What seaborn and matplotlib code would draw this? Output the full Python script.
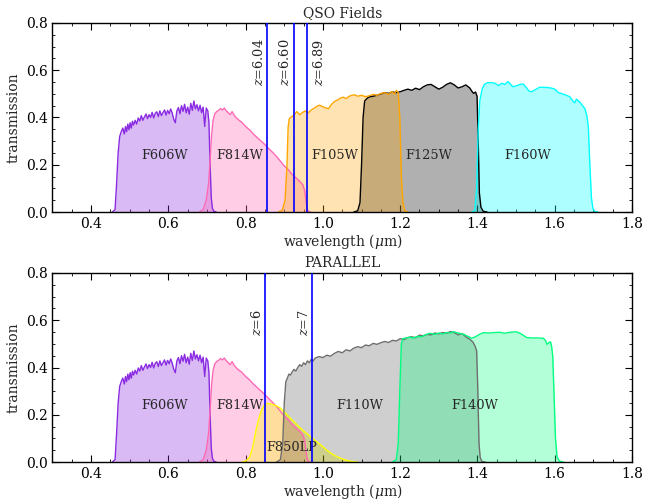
import matplotlib
matplotlib.use("Agg")
import matplotlib.pyplot as plt
import seaborn as sns
from matplotlib.ticker import MultipleLocator

# ---- filter throughput curves (wavelength in micron, transmission) ----
F606W_WL = [0.455, 0.462, 0.466, 0.470, 0.474, 0.478, 0.482, 0.486, 0.489, 0.492,
            0.495, 0.498, 0.501, 0.504, 0.507, 0.510, 0.514, 0.518, 0.522, 0.526,
            0.530, 0.534, 0.538, 0.542, 0.546, 0.550, 0.554, 0.558, 0.562, 0.566,
            0.570, 0.574, 0.578, 0.582, 0.586, 0.590, 0.594, 0.598, 0.602, 0.606,
            0.610, 0.614, 0.618, 0.622, 0.626, 0.630, 0.634, 0.638, 0.642, 0.646,
            0.650, 0.654, 0.658, 0.662, 0.666, 0.670, 0.674, 0.678, 0.682, 0.686,
            0.690, 0.694, 0.698, 0.702, 0.705, 0.708, 0.711, 0.714, 0.718, 0.724]
F606W_T = [0.000, 0.010, 0.120, 0.250, 0.320, 0.340, 0.355, 0.330, 0.362, 0.340,
           0.372, 0.348, 0.378, 0.355, 0.384, 0.368, 0.388, 0.372, 0.398, 0.385,
           0.408, 0.388, 0.402, 0.415, 0.395, 0.412, 0.400, 0.422, 0.398, 0.418,
           0.424, 0.404, 0.428, 0.408, 0.420, 0.432, 0.410, 0.430, 0.416, 0.436,
           0.418, 0.392, 0.378, 0.428, 0.442, 0.416, 0.450, 0.426, 0.456, 0.420,
           0.444, 0.414, 0.460, 0.430, 0.470, 0.436, 0.454, 0.428, 0.452, 0.420,
           0.444, 0.362, 0.440, 0.428, 0.380, 0.200, 0.060, 0.015, 0.003, 0.000]

F814W_WL = [0.680, 0.690, 0.698, 0.704, 0.708, 0.712, 0.716, 0.720, 0.725, 0.730,
            0.735, 0.740, 0.745, 0.750, 0.755, 0.760, 0.765, 0.770, 0.775, 0.780,
            0.790, 0.800, 0.810, 0.820, 0.830, 0.840, 0.850, 0.860, 0.870, 0.880,
            0.890, 0.900, 0.910, 0.920, 0.930, 0.940, 0.948, 0.953, 0.956, 0.959,
            0.962, 0.968]
F814W_T = [0.000, 0.010, 0.050, 0.120, 0.220, 0.330, 0.390, 0.415, 0.425, 0.430,
           0.438, 0.432, 0.440, 0.428, 0.420, 0.412, 0.425, 0.410, 0.400, 0.392,
           0.380, 0.362, 0.348, 0.330, 0.315, 0.300, 0.285, 0.268, 0.252, 0.235,
           0.215, 0.195, 0.180, 0.160, 0.145, 0.130, 0.115, 0.090, 0.050, 0.015,
           0.003, 0.000]

F105W_WL = [0.885, 0.895, 0.902, 0.907, 0.910, 0.913, 0.918, 0.925, 0.932, 0.940,
            0.948, 0.955, 0.962, 0.970, 0.978, 0.985, 0.992, 1.000, 1.008, 1.015,
            1.022, 1.030, 1.038, 1.045, 1.052, 1.060, 1.068, 1.075, 1.082, 1.090,
            1.100, 1.110, 1.120, 1.130, 1.140, 1.150, 1.160, 1.170, 1.178, 1.185,
            1.190, 1.195, 1.199, 1.203, 1.207, 1.212, 1.220]
F105W_T = [0.000, 0.008, 0.050, 0.200, 0.360, 0.395, 0.402, 0.410, 0.425, 0.412,
           0.422, 0.428, 0.420, 0.432, 0.440, 0.448, 0.452, 0.445, 0.440, 0.438,
           0.455, 0.468, 0.474, 0.482, 0.486, 0.480, 0.490, 0.494, 0.496, 0.490,
           0.494, 0.488, 0.492, 0.498, 0.494, 0.502, 0.505, 0.498, 0.510, 0.500,
           0.515, 0.505, 0.400, 0.150, 0.040, 0.005, 0.000]

F125W_WL = [1.080, 1.090, 1.096, 1.100, 1.104, 1.108, 1.115, 1.122, 1.130, 1.140,
            1.150, 1.160, 1.170, 1.180, 1.190, 1.200, 1.210, 1.220, 1.230, 1.240,
            1.250, 1.260, 1.270, 1.280, 1.290, 1.300, 1.310, 1.320, 1.330, 1.340,
            1.350, 1.360, 1.370, 1.380, 1.386, 1.390, 1.395, 1.399, 1.402, 1.405,
            1.409, 1.415, 1.425]
F125W_T = [0.000, 0.005, 0.040, 0.200, 0.400, 0.470, 0.482, 0.488, 0.490, 0.494,
           0.500, 0.505, 0.502, 0.508, 0.505, 0.509, 0.515, 0.520, 0.515, 0.524,
           0.518, 0.530, 0.538, 0.540, 0.530, 0.520, 0.528, 0.540, 0.547, 0.538,
           0.525, 0.530, 0.538, 0.525, 0.510, 0.502, 0.508, 0.490, 0.300, 0.080,
           0.020, 0.003, 0.000]

F160W_WL = [1.385, 1.393, 1.398, 1.402, 1.406, 1.412, 1.418, 1.425, 1.435, 1.445,
            1.455, 1.463, 1.471, 1.479, 1.486, 1.492, 1.500, 1.510, 1.518, 1.526,
            1.533, 1.540, 1.550, 1.561, 1.570, 1.580, 1.590, 1.600, 1.610, 1.620,
            1.630, 1.639, 1.647, 1.652, 1.656, 1.661, 1.665, 1.672, 1.678, 1.683,
            1.687, 1.691, 1.695, 1.699, 1.703, 1.712]
F160W_T = [0.000, 0.005, 0.100, 0.350, 0.470, 0.520, 0.540, 0.547, 0.548, 0.545,
           0.535, 0.545, 0.540, 0.552, 0.540, 0.530, 0.534, 0.540, 0.542, 0.528,
           0.512, 0.509, 0.518, 0.528, 0.528, 0.527, 0.525, 0.520, 0.505, 0.500,
           0.494, 0.488, 0.470, 0.462, 0.478, 0.470, 0.465, 0.450, 0.438, 0.410,
           0.360, 0.200, 0.060, 0.015, 0.003, 0.000]

F850LP_WL = [0.790, 0.800, 0.810, 0.818, 0.825, 0.832, 0.840, 0.848, 0.856, 0.864,
             0.872, 0.880, 0.890, 0.900, 0.910, 0.920, 0.930, 0.940, 0.950, 0.960,
             0.970, 0.980, 0.990, 1.000, 1.010, 1.020, 1.030, 1.040, 1.050, 1.060,
             1.070, 1.080, 1.090]
F850LP_T = [0.000, 0.003, 0.020, 0.060, 0.120, 0.170, 0.215, 0.240, 0.248, 0.246,
            0.242, 0.238, 0.228, 0.212, 0.195, 0.178, 0.162, 0.146, 0.131, 0.118,
            0.104, 0.091, 0.078, 0.064, 0.050, 0.038, 0.028, 0.020, 0.013, 0.008,
            0.004, 0.001, 0.000]

F110W_WL = [0.880, 0.890, 0.896, 0.900, 0.904, 0.908, 0.912, 0.916, 0.920, 0.925,
            0.930, 0.935, 0.940, 0.945, 0.950, 0.955, 0.960, 0.965, 0.970, 0.975,
            0.980, 0.990, 1.000, 1.010, 1.020, 1.030, 1.040, 1.050, 1.060, 1.070,
            1.080, 1.090, 1.100, 1.110, 1.120, 1.130, 1.140, 1.150, 1.160, 1.170,
            1.180, 1.190, 1.200, 1.210, 1.220, 1.230, 1.240, 1.250, 1.260, 1.270,
            1.280, 1.290, 1.300, 1.310, 1.320, 1.330, 1.340, 1.350, 1.360, 1.370,
            1.380, 1.388, 1.394, 1.398, 1.401, 1.404, 1.407, 1.411, 1.420]
F110W_T = [0.000, 0.010, 0.080, 0.250, 0.340, 0.355, 0.372, 0.368, 0.380, 0.392,
           0.385, 0.400, 0.412, 0.405, 0.420, 0.412, 0.428, 0.420, 0.435, 0.428,
           0.440, 0.446, 0.442, 0.452, 0.448, 0.460, 0.468, 0.462, 0.475, 0.470,
           0.482, 0.488, 0.484, 0.495, 0.492, 0.502, 0.498, 0.505, 0.510, 0.506,
           0.515, 0.512, 0.522, 0.518, 0.527, 0.530, 0.526, 0.537, 0.534, 0.540,
           0.538, 0.546, 0.542, 0.548, 0.545, 0.552, 0.548, 0.538, 0.544, 0.530,
           0.520, 0.508, 0.490, 0.470, 0.300, 0.080, 0.020, 0.003, 0.000]

F140W_WL = [1.180, 1.190, 1.195, 1.199, 1.203, 1.207, 1.215, 1.225, 1.235, 1.245,
            1.255, 1.265, 1.277, 1.290, 1.300, 1.310, 1.320, 1.330, 1.337, 1.345,
            1.355, 1.365, 1.375, 1.385, 1.395, 1.405, 1.415, 1.430, 1.445, 1.458,
            1.470, 1.480, 1.490, 1.501, 1.510, 1.520, 1.527, 1.540, 1.555, 1.570,
            1.576, 1.580, 1.585, 1.589, 1.592, 1.595, 1.598, 1.602, 1.606, 1.612,
            1.622]
F140W_T = [0.000, 0.010, 0.080, 0.300, 0.500, 0.522, 0.525, 0.528, 0.525, 0.532,
           0.530, 0.538, 0.545, 0.540, 0.546, 0.542, 0.548, 0.545, 0.552, 0.548,
           0.544, 0.540, 0.532, 0.524, 0.530, 0.540, 0.547, 0.546, 0.548, 0.549,
           0.545, 0.548, 0.550, 0.551, 0.545, 0.535, 0.527, 0.525, 0.525, 0.524,
           0.515, 0.498, 0.505, 0.509, 0.490, 0.446, 0.300, 0.100, 0.022, 0.004,
           0.000]

# ---- panel contents ----
QSO_FILTERS = ["F606W", "F814W", "F125W", "F105W", "F160W"]
PARALLEL_FILTERS = ["F606W", "F814W", "F850LP", "F110W", "F140W"]
QSO_REDSHIFTS = ["6.04", "6.60", "6.89"]
PARALLEL_REDSHIFTS = ["6", "7"]
LYA_MICRON = 0.1216

CURVES = {
    "F606W": (F606W_WL, F606W_T),
    "F814W": (F814W_WL, F814W_T),
    "F105W": (F105W_WL, F105W_T),
    "F125W": (F125W_WL, F125W_T),
    "F160W": (F160W_WL, F160W_T),
    "F850LP": (F850LP_WL, F850LP_T),
    "F110W": (F110W_WL, F110W_T),
    "F140W": (F140W_WL, F140W_T),
}

# line colour, fill colour, fill alpha
STYLE = {
    "F606W": ("#8a2be2", "#8a2be2", 0.32),
    "F814W": ("#ff69b4", "#ff69b4", 0.32),
    "F105W": ("#ffa500", "#ffa500", 0.30),
    "F125W": ("#000000", "#000000", 0.31),
    "F160W": ("#00ffff", "#00ffff", 0.32),
    "F850LP": ("#ffff00", "#ffff00", 0.32),
    "F110W": ("#6e6e6e", "#000000", 0.19),
    "F140W": ("#00ff7f", "#00ff7f", 0.30),
}

# filter name label positions (micron, transmission)
LABEL_POS = {
    "QSO Fields": {"F606W": (0.591, 0.24), "F814W": (0.785, 0.24),
                   "F105W": (1.031, 0.24), "F125W": (1.275, 0.24),
                   "F160W": (1.53, 0.24)},
    "PARALLEL": {"F606W": (0.591, 0.238), "F814W": (0.785, 0.238),
                 "F850LP": (0.919, 0.062), "F110W": (1.096, 0.238),
                 "F140W": (1.393, 0.238)},
}

# which side of its line each redshift label sits on
LABEL_SIDE = {"6.04": "left", "6.60": "left", "6.89": "right",
              "6": "left", "7": "left"}

sns.set_style("ticks")
plt.rcParams.update({
    "font.family": ["DejaVu Serif"],
    "mathtext.fontset": "dejavuserif",
    "font.size": 10,
    "axes.edgecolor": "black",
    "axes.linewidth": 1.0,
    "xtick.direction": "in",
    "ytick.direction": "in",
    "xtick.top": True,
    "ytick.right": True,
    "xtick.major.size": 5,
    "ytick.major.size": 5,
    "xtick.minor.size": 2.5,
    "ytick.minor.size": 2.5,
    "xtick.color": "black",
    "ytick.color": "black",
    "xtick.labelsize": 10,
    "ytick.labelsize": 10,
})

fig = plt.figure(figsize=(6.47, 5.0), dpi=100)
ax_top = fig.add_axes([0.0811, 0.576, 0.8957, 0.378])
ax_bot = fig.add_axes([0.0811, 0.076, 0.8957, 0.378])


def draw_panel(ax, title, filters, redshifts):
    # shaded bandpasses first, outlines on top
    for name in filters:
        wl, tr = CURVES[name]
        _, fc, fa = STYLE[name]
        ax.fill_between(wl, tr, 0, color=fc, alpha=fa, lw=0, zorder=1)
    for name in filters:
        wl, tr = CURVES[name]
        lc = STYLE[name][0]
        sns.lineplot(x=wl, y=tr, ax=ax, color=lc, lw=1.0, sort=False,
                     estimator=None, zorder=2)
        lx, ly = LABEL_POS[title][name]
        ax.text(lx, ly, name, ha="center", va="center", fontsize=9.3, zorder=5)
    for zs in redshifts:
        xz = LYA_MICRON * (1 + float(zs))
        ax.axvline(xz, color="blue", lw=1.2, zorder=6)
        if LABEL_SIDE[zs] == "left":
            tx, ha = xz - 0.004, "right"
        else:
            tx, ha = xz + 0.012, "left"
        ax.text(tx, 0.535, "$z$=" + zs, rotation=90, ha=ha,
                va="bottom", fontsize=9.3)
    ax.set_xlim(0.3, 1.8)
    ax.set_ylim(0.0, 0.8)
    ax.xaxis.set_major_locator(MultipleLocator(0.2))
    ax.xaxis.set_minor_locator(MultipleLocator(0.05))
    ax.yaxis.set_major_locator(MultipleLocator(0.2))
    ax.yaxis.set_minor_locator(MultipleLocator(0.05))
    ax.tick_params(which="both", top=True, right=True, direction="in")
    ax.set_xlabel(r"wavelength ($\mu$m)", fontsize=10, labelpad=1)
    ax.set_ylabel("transmission", fontsize=10, labelpad=4)
    ax.set_title(title, fontsize=10, pad=4)
    for s in ax.spines.values():
        s.set_visible(True)
        s.set_color("black")


draw_panel(ax_top, "QSO Fields", QSO_FILTERS, QSO_REDSHIFTS)
draw_panel(ax_bot, "PARALLEL", PARALLEL_FILTERS, PARALLEL_REDSHIFTS)

fig.savefig("out.png", dpi=100)
